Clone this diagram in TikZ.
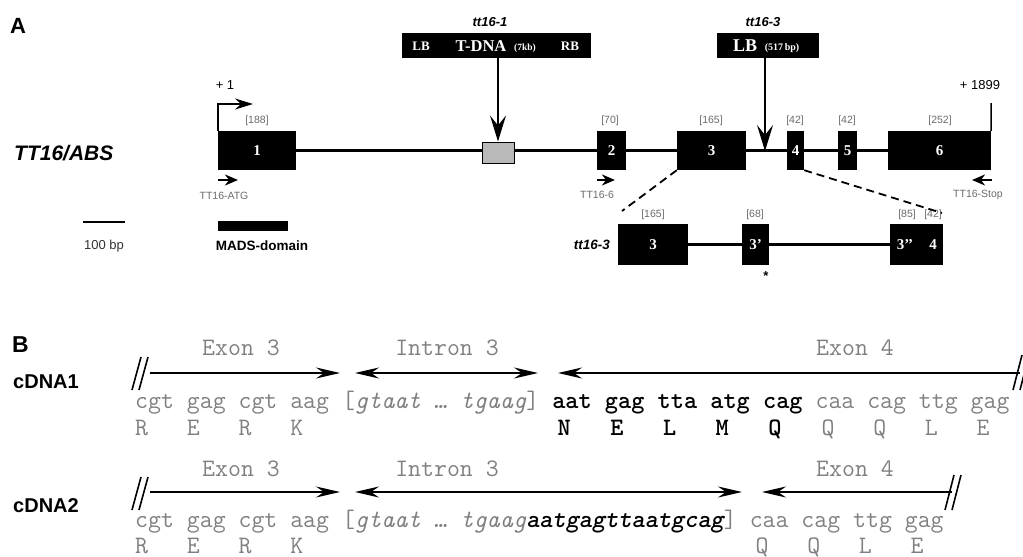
\documentclass[tikz,border=0pt]{standalone}
\usepackage{fontspec}
\setmainfont{Liberation Sans}
\newfontfamily\serifbf{Liberation Serif}
\usetikzlibrary{arrows.meta,backgrounds}
\definecolor{seqgray}{gray}{0.5}
\definecolor{lblgray}{gray}{0.42}
\newcommand{\fsz}[1]{\fontsize{#1}{#1}\selectfont}
\frenchspacing
\begin{document}
\begin{tikzpicture}[x=1pt,y=-1pt,
  panel/.style={font=\bfseries\fsz{22}, inner sep=0pt, anchor=base west},
  genelbl/.style={font=\bfseries\itshape\fsz{21}, inner sep=0pt, anchor=base west},
  exon/.style={fill=black, inner sep=0pt, minimum height=39pt, text=white, font=\serifbf\bfseries\fsz{15}},
  exonb/.style={fill=black, inner sep=0pt, minimum height=41pt, text=white, font=\serifbf\bfseries\fsz{15}},
  exontxt/.style={inner sep=0pt, text=white, font=\serifbf\bfseries\fsz{15}},
  hatchbox/.style={fill=gray!55, draw=black, line width=1pt, inner sep=0pt, minimum width=32pt, minimum height=21pt},
  blackbox/.style={fill=black, inner sep=0pt, minimum height=25pt},
  boxtxt/.style={inner sep=0pt, text=white, font=\serifbf\bfseries\fsz{13}},
  sizelbl/.style={font=\fsz{10.5}, text=lblgray, inner sep=0pt},
  mutlbl/.style={font=\bfseries\itshape\fsz{13}, inner sep=0pt},
  poslbl/.style={font=\fsz{13}, inner sep=0pt},
  primerlbl/.style={font=\fsz{10.5}, text=lblgray, inner sep=0pt},
  gene/.style={line width=2.6pt},
  thinline/.style={line width=1.5pt},
  tssarrow/.style={line width=1.5pt, -{Stealth[length=18pt,width=11pt,inset=6pt]}},
  primer/.style={line width=2pt, -{Stealth[length=13pt,width=11pt,inset=4pt]}},
  ins/.style={line width=1.6pt, -{Stealth[length=26pt,width=16pt,inset=10pt]}},
  zoomline/.style={line width=1.8pt, dash pattern=on 8pt off 5pt},
  seq/.style={font=\ttfamily\fsz{25.1}, text=seqgray, inner sep=0pt, anchor=base west},
  seqlbl/.style={font=\ttfamily\fsz{25.1}, text=seqgray, inner sep=0pt, anchor=base},
  cdna/.style={font=\bfseries\fsz{20}, inner sep=0pt, anchor=base west},
  barr/.style={line width=1.8pt},
  brk/.style={line width=1.6pt}
]
\useasboundingbox (0,0) rectangle (1023,557);

% ---------------- Panel A ----------------
\node[panel] (pA) at (10,33) {A};
\node[genelbl] (gname) at (14,160) {TT16/ABS};

\node[exon, minimum width=78pt] (e1) at (257,150.5) {1};
\node[exon, minimum width=29pt] (e2) at (611.5,150.5) {2};
\node[exon, minimum width=69pt] (e3) at (711.5,150.5) {3};
\node[exon, minimum width=17pt] (e4) at (795.5,150.5) {4};
\node[exon, minimum width=19pt] (e5) at (847.5,150.5) {5};
\node[exon, minimum width=103pt] (e6) at (939.5,150.5) {6};
\node[hatchbox] (tsite) at (498,152.5) {};
\begin{scope}[on background layer]
  \draw[gene] (e1.east) -- (e6.west);
\end{scope}

\node[sizelbl] (s1) at (257,121) {[188]};
\node[sizelbl] (s2) at (610,121) {[70]};
\node[sizelbl] (s3) at (711,121) {[165]};
\node[sizelbl] (s4) at (795,121) {[42]};
\node[sizelbl] (s5) at (847,121) {[42]};
\node[sizelbl] (s6) at (940,121) {[252]};

% transcription start / end
\coordinate (tss) at (253,104);
\draw[tssarrow] (e1.north west) |- (tss);
\node[poslbl] (p1) at (225,85) {+ 1};
\coordinate (endm) at (991,103);
\draw[thinline] (e6.north east) -- (endm);
\node[poslbl] (p2) at (980,85) {+ 1899};

% primers
\coordinate (pa1) at (218,180); \coordinate (pa2) at (238,180);
\draw[primer] (pa1) -- (pa2);
\node[primerlbl] (pal) at (224,196) {TT16-ATG};
\coordinate (pb1) at (597,180); \coordinate (pb2) at (615,180);
\draw[primer] (pb1) -- (pb2);
\node[primerlbl] (pbl) at (597,195) {TT16-6};
\coordinate (pc1) at (992,180); \coordinate (pc2) at (972,180);
\draw[primer] (pc1) -- (pc2);
\node[primerlbl] (pcl) at (978,195) {TT16-Stop};

% insertions
\node[mutlbl] (m1) at (490,22) {tt16-1};
\node[blackbox, minimum width=189pt] (tdna) at (496.5,45.5) {};
\node[boxtxt] (tlb) at (421,46.5) {LB};
\node[boxtxt, font=\serifbf\bfseries\fsz{16.5}] (ttx) at (481,46) {T-DNA};
\node[boxtxt, font=\serifbf\bfseries\fsz{9.5}] (tkb) at (525,48) {(7kb)};
\node[boxtxt] (trb) at (570,46.5) {RB};
\draw[ins] (tsite.north |- tdna.south) -- (tsite.north);

\node[mutlbl] (m3) at (763,22) {tt16-3};
\node[blackbox, minimum width=102pt] (lbbox) at (768,45.5) {};
\node[boxtxt, font=\serifbf\bfseries\fsz{18}] (lbt) at (745,46) {LB};
\node[boxtxt, font=\serifbf\bfseries\fsz{10}] (lbs) at (782,48) {(517\,bp)};
\coordinate (ins3) at (765,151);
\draw[ins] (ins3 |- lbbox.south) -- (ins3);

% scale and domain
\coordinate (sb1) at (83,222); \coordinate (sb2) at (125,222);
\draw[thinline] (sb1) -- (sb2);
\node[poslbl, text=black!80] (sbl) at (104,246) {100 bp};
\node[fill=black, inner sep=0pt, minimum width=70pt, minimum height=10pt] (mads) at (253,226) {};
\node[poslbl, font=\bfseries\fsz{13.5}] (madsl) at (262,246) {MADS-domain};

% tt16-3 transcript
\node[exonb, minimum width=70pt] (f3) at (653,244.5) {3};
\node[exonb, minimum width=27pt] (f3p) at (755.5,244.5) {3’};
\node[exonb, minimum width=53pt] (f34) at (916.5,244.5) {};
\node[exontxt] (f3pp) at (905,245) {3’’};
\node[exontxt] (f4) at (933,245) {4};
\begin{scope}[on background layer]
  \draw[gene] (f3.east) -- (f34.west);
\end{scope}
\node[sizelbl] (t1) at (653,215) {[165]};
\node[sizelbl] (t2) at (755,215) {[68]};
\node[sizelbl] (t3) at (907,215) {[85]};
\node[sizelbl] (t4) at (933,215) {[42]};
\node[mutlbl, font=\bfseries\itshape\fsz{13.5}, anchor=east] (m3b) at (610,245) {tt16-3};
\node[font=\bfseries\fsz{13}, inner sep=0pt, anchor=north] (star) at (766,271) {*};

\coordinate (d1) at (622,211);
\coordinate (d2) at (942,213);
\draw[zoomline] (e3.south west) -- (d1);
\draw[zoomline] (e4.south east) -- (d2);

% ---------------- Panel B ----------------
\node[panel, font=\bfseries\fsz{23}] (pB) at (12,352) {B};
\node[cdna] (c1) at (13,388) {cDNA1};
\node[cdna] (c2) at (13,512) {cDNA2};

% row 1
\node[seqlbl] (l1a) at (241,355) {Exon 3};
\node[seqlbl] (l1b) at (447,355) {Intron 3};
\node[seqlbl] (l1c) at (855,355) {Exon 4};
\coordinate (a1s) at (150,373); \coordinate (a1e) at (340,373);
\coordinate (a2s) at (355,373); \coordinate (a2e) at (538,373);
\coordinate (a3s) at (558,373); \coordinate (a3e) at (1020,373);
\draw[barr, -{Stealth[length=24pt,width=11pt,inset=8pt]}] (a1s) -- (a1e);
\draw[barr, {Stealth[length=24pt,width=11pt,inset=8pt]}-{Stealth[length=24pt,width=11pt,inset=8pt]}] (a2s) -- (a2e);
\draw[barr, {Stealth[length=24pt,width=11pt,inset=8pt]}-] (a3s) -- (a3e);
\draw[brk] (132,390) -- (141,357); \draw[brk] (139,390) -- (148,357);
\draw[brk] (1013,390) -- (1022,355); \draw[brk] (1020,390) -- (1029,355);

\node[seq] (q1) at (135,408) {cgt gag cgt aag [\textit{gtaat … tgaag}] {\bfseries\color{black}aat gag tta atg cag} caa cag ttg gag};
\node[seq] (aa1a) at (135,435) {R\ \ \ E\ \ \ R\ \ \ K};
\node[seq, text=black, font=\ttfamily\bfseries\fsz{25.1}] (aa1b) at (557.4,435) {N\ \ \ E\ \ \ L\ \ \ M\ \ \ Q};
\node[seq] (aa1c) at (821.4,435) {Q\ \ \ Q\ \ \ L\ \ \ E};

% row 2
\node[seqlbl] (l2a) at (241,476) {Exon 3};
\node[seqlbl] (l2b) at (447,476) {Intron 3};
\node[seqlbl] (l2c) at (855,476) {Exon 4};
\coordinate (b1s) at (150,492); \coordinate (b1e) at (340,492);
\coordinate (b2s) at (355,492); \coordinate (b2e) at (742,492);
\coordinate (b3s) at (762,492); \coordinate (b3e) at (952,492);
\draw[barr, -{Stealth[length=24pt,width=11pt,inset=8pt]}] (b1s) -- (b1e);
\draw[barr, {Stealth[length=24pt,width=11pt,inset=8pt]}-{Stealth[length=24pt,width=11pt,inset=8pt]}] (b2s) -- (b2e);
\draw[barr, {Stealth[length=24pt,width=11pt,inset=8pt]}-] (b3s) -- (b3e);
\draw[brk] (132,510) -- (141,477); \draw[brk] (139,510) -- (148,477);
\draw[brk] (945,510) -- (954,475); \draw[brk] (952,510) -- (961,475);

\node[seq] (q2) at (135,527) {cgt gag cgt aag [\textit{gtaat … tgaag{\bfseries\color{black}aatgagttaatgcag}}] caa cag ttg gag};
\node[seq] (aa2a) at (135,553) {R\ \ \ E\ \ \ R\ \ \ K};
\node[seq] (aa2b) at (755.4,553) {Q\ \ \ Q\ \ \ L\ \ \ E};
\end{tikzpicture}
\end{document}
